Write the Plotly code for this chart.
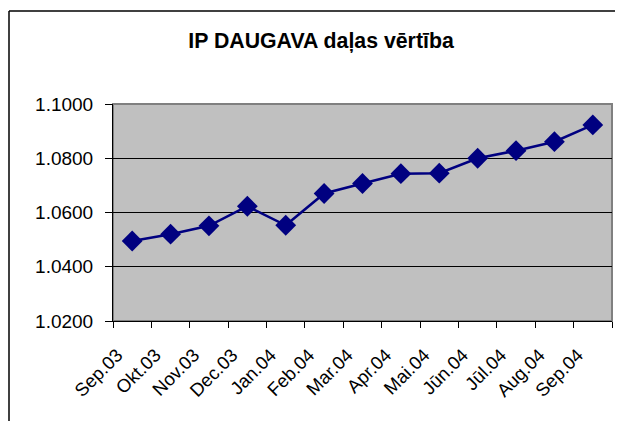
import plotly.graph_objects as go

months = ["Sep.03", "Okt.03", "Nov.03", "Dec.03", "Jan.04", "Feb.04", "Mar.04",
          "Apr.04", "Mai.04", "Jūn.04", "Jūl.04", "Aug.04", "Sep.04"]
values = [1.0495, 1.0520, 1.0551, 1.0623, 1.0553, 1.0670, 1.0707,
          1.0743, 1.0745, 1.0800, 1.0828, 1.0861, 1.0923]
y_ticks = [1.02, 1.04, 1.06, 1.08, 1.10]

FONT = "Liberation Sans, Arial, sans-serif"
OFF = 8  # page body margin
W, H = 623 - OFF, 421 - OFF
L, T = 113 - OFF, 104 - OFF
pw, ph = 499, 217
R = W - L - pw
B = H - T - ph

def px2x(p):
    return (p - OFF - L) / pw

def py2y(p):
    return (H - B - (p - OFF)) / ph

fig = go.Figure()
fig.add_trace(go.Scatter(
    x=months, y=values, mode="lines+markers",
    line=dict(color="#000080", width=2.5),
    marker=dict(symbol="diamond", size=16, color="#000080"),
    showlegend=False, cliponaxis=False,
))

fig.update_layout(
    width=W, height=H,
    margin=dict(l=L, r=R, t=T, b=B, pad=0),
    paper_bgcolor="white", plot_bgcolor="#C0C0C0",
    font=dict(family=FONT, size=18, color="black"),
    title=dict(text="<b>IP DAUGAVA daļas vērtība</b>", xref="container",
               x=(321 - OFF) / W, xanchor="center",
               y=1 - (41 - OFF) / H, yanchor="middle",
               font=dict(size=21.3, family=FONT)),
    xaxis=dict(
        type="category", range=[-0.5, len(months) - 0.5],
        tickson="boundaries", ticks="outside", ticklen=6, tickcolor="black",
        tickangle=-45, showgrid=False, showline=True, linecolor="black",
        linewidth=1, tickfont=dict(size=18.5),
        ticklabelstandoff=15, ticklabelshift=-15,
    ),
    yaxis=dict(
        range=[1.02, 1.10], tickvals=y_ticks, tickformat=".4f",
        ticks="outside", ticklen=7, tickcolor="black",
        showgrid=True, gridcolor="black", gridwidth=1,
        showline=True, linecolor="black", linewidth=1,
        zeroline=False, ticklabelstandoff=8, tickfont=dict(size=19),
    ),
    shapes=[
        dict(type="rect", xref="paper", yref="paper", x0=0, x1=1, y0=0, y1=1,
             line=dict(color="#808080", width=2), layer="below"),
        dict(type="line", xref="paper", yref="paper", x0=px2x(9), x1=px2x(700),
             y0=py2y(11), y1=py2y(11), line=dict(color="black", width=1.5)),
        dict(type="line", xref="paper", yref="paper", x0=px2x(9), x1=px2x(9),
             y0=py2y(11), y1=py2y(500), line=dict(color="black", width=1.5)),
    ],
)

fig.write_html("out.html")
